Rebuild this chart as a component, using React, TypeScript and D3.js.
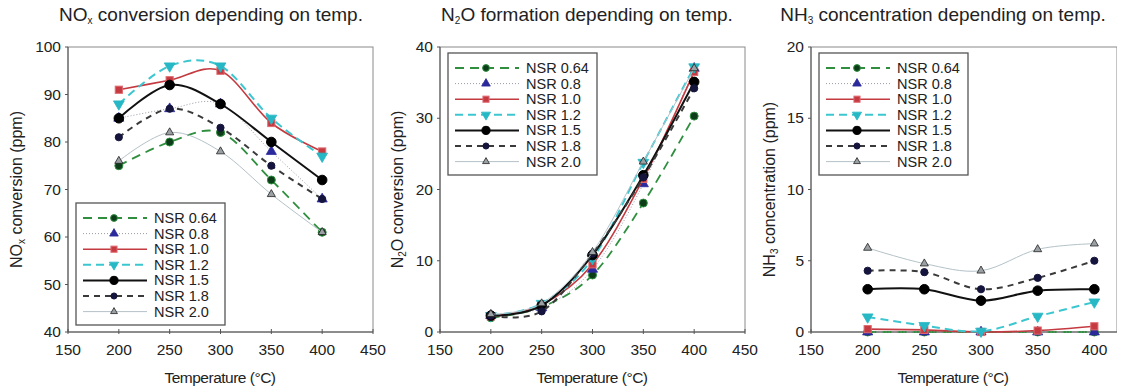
import React, { useEffect, useRef } from 'react';
import * as d3 from 'd3';

// temperatures (°C) shared by all three panels
const temps = [200, 250, 300, 350, 400];
const seriesNames = ['NSR 0.64', 'NSR 0.8', 'NSR 1.0', 'NSR 1.2', 'NSR 1.5', 'NSR 1.8', 'NSR 2.0'];

// NOx conversion (ppm)
const noxValues = [
	[75, 80, 82, 72, 61],
	[85, 87, 88, 78, 68],
	[91, 93, 95, 84, 78],
	[88, 96, 96, 85, 77],
	[85, 92, 88, 80, 72],
	[81, 87, 83, 75, 68],
	[76, 82, 78, 69, 61],
];

// N2O formation (ppm)
const n2oValues = [
	[2.0, 3.5, 8.0, 18.1, 30.3],
	[2.3, 3.4, 8.8, 20.8, 37.0],
	[2.2, 3.8, 9.5, 21.5, 36.5],
	[2.3, 4.0, 10.3, 23.8, 37.2],
	[2.3, 3.7, 10.8, 22.0, 35.1],
	[2.3, 2.9, 11.0, 21.7, 34.2],
	[2.5, 4.0, 11.2, 23.9, 37.0],
];

// NH3 concentration (ppm)
const nh3Values = [
	[0, 0, 0, 0, 0],
	[0, 0, 0, 0, 0],
	[0.2, 0.15, 0, 0.1, 0.4],
	[1.05, 0.45, 0.05, 1.1, 2.1],
	[3.0, 3.0, 2.2, 2.9, 3.0],
	[4.3, 4.2, 3.0, 3.8, 5.0],
	[5.9, 4.8, 4.3, 5.8, 6.2],
];

const noxTicks = [40, 50, 60, 70, 80, 90, 100];
const n2oTicks = [0, 10, 20, 30, 40];
const nh3Ticks = [0, 5, 10, 15, 20];
const xTicksFull = [150, 200, 250, 300, 350, 400, 450];
const xTicksShort = [150, 200, 250, 300, 350, 400];

// look of each series (Excel-like)
const looks = [
	{ stroke: '#2f8f3f', width: 1.8, dash: '9,6', symbol: 'circle', size: 4, fill: '#0c3d18', mstroke: '#2f8f3f' },
	{ stroke: '#9a9aa8', width: 1, dash: '1,2', symbol: 'triangle', size: 4.5, fill: '#2a2a9c', mstroke: '#2a2a9c' },
	{ stroke: '#c43a40', width: 1.6, dash: null, symbol: 'square', size: 3.6, fill: '#c43a40', mstroke: '#e06a70' },
	{ stroke: '#3cc6cf', width: 2, dash: '8,5', symbol: 'down', size: 4.8, fill: '#26b8c4', mstroke: '#26b8c4' },
	{ stroke: '#111111', width: 2, dash: null, symbol: 'circle', size: 4.8, fill: '#000000', mstroke: '#000000' },
	{ stroke: '#3a3a3a', width: 2, dash: '6,5', symbol: 'circle', size: 3.6, fill: '#14143c', mstroke: '#14143c' },
	{ stroke: '#b4c2c8', width: 1, dash: null, symbol: 'triangle', size: 3.6, fill: '#9aa0a4', mstroke: '#222' },
];

const panels = [
	{
		values: noxValues, yDomain: [40, 100], yTicks: noxTicks, xDomain: [150, 450], xTicks: xTicksFull,
		left: 68, right: 373, title: ['NO', 'x', ' conversion depending on temp.'], titleX: 211,
		ylab: ['NO', 'x', ' conversion (ppm)'], ylabX: 22, xlabX: 220, legendBottom: true,
	},
	{
		values: n2oValues, yDomain: [0, 40], yTicks: n2oTicks, xDomain: [150, 450], xTicks: xTicksFull,
		left: 440, right: 745, title: ['N', '2', 'O formation depending on temp.'], titleX: 587,
		ylab: ['N', '2', 'O conversion (ppm)'], ylabX: 403, xlabX: 592, legendBottom: false,
	},
	{
		values: nh3Values, yDomain: [0, 20], yTicks: nh3Ticks, xDomain: [150, 420], xTicks: xTicksShort,
		left: 811, right: 1117, title: ['NH', '3', ' concentration depending on temp.'], titleX: 943,
		ylab: ['NH', '3', ' concentration (ppm)'], ylabX: 775, xlabX: 953, legendBottom: false,
	},
];

const W = 1125;
const H = 392;
const TOP = 47;
const BOTTOM = 332;
const FONT = '"Liberation Sans", Arial, Helvetica, sans-serif';

function drawSymbol(g, kind, x, y, r, fill, stroke) {
	if (kind === 'circle') {
		g.append('circle').attr('cx', x).attr('cy', y).attr('r', r).attr('fill', fill).attr('stroke', stroke).attr('stroke-width', 1);
	} else if (kind === 'square') {
		g.append('rect').attr('x', x - r).attr('y', y - r).attr('width', 2 * r).attr('height', 2 * r)
			.attr('fill', fill).attr('stroke', stroke).attr('stroke-width', 1);
	} else {
		const sym = d3.symbol().type(d3.symbolTriangle).size(r * r * 2.2);
		g.append('path').attr('d', sym())
			.attr('transform', `translate(${x},${y})${kind === 'down' ? ' rotate(180)' : ''}`)
			.attr('fill', fill).attr('stroke', stroke).attr('stroke-width', 0.8);
	}
}

function addSubText(sel, parts, subSize) {
	sel.append('tspan').text(parts[0]);
	sel.append('tspan').attr('font-size', subSize).attr('dy', 3).text(parts[1]);
	sel.append('tspan').attr('dy', -3).text(parts[2]);
}

export default function App() {
	const ref = useRef(null);

	useEffect(() => {
		const svg = d3.select(ref.current);
		svg.selectAll('*').remove();
		svg.append('rect').attr('width', W).attr('height', H).attr('fill', '#fff');

		panels.forEach(p => {
			const x = d3.scaleLinear().domain(p.xDomain).range([p.left, p.right]);
			const y = d3.scaleLinear().domain(p.yDomain).range([BOTTOM, TOP]);
			const g = svg.append('g').attr('font-family', FONT);

			// title
			const t = g.append('text').attr('x', p.titleX).attr('y', 21).attr('text-anchor', 'middle')
				.attr('font-size', 19).attr('fill', '#222');
			addSubText(t, p.title, 10);

			// frame
			g.append('rect').attr('x', p.left).attr('y', TOP).attr('width', p.right - p.left).attr('height', BOTTOM - TOP)
				.attr('fill', 'none').attr('stroke', '#8a8a8a').attr('stroke-width', 1);

			// axes lines
			g.append('line').attr('x1', p.left).attr('x2', p.left).attr('y1', TOP).attr('y2', BOTTOM).attr('stroke', '#555');
			g.append('line').attr('x1', p.left).attr('x2', p.right).attr('y1', BOTTOM).attr('y2', BOTTOM).attr('stroke', '#555');

			// y ticks
			p.yTicks.forEach(v => {
				g.append('line').attr('x1', p.left - 3).attr('x2', p.left).attr('y1', y(v)).attr('y2', y(v)).attr('stroke', '#555');
				g.append('text').attr('x', p.left - 7).attr('y', y(v) + 5).attr('text-anchor', 'end')
					.attr('font-size', 15.5).attr('fill', '#222').text(v);
			});
			// x ticks
			p.xTicks.forEach(v => {
				g.append('line').attr('x1', x(v)).attr('x2', x(v)).attr('y1', BOTTOM - 3).attr('y2', BOTTOM + 2).attr('stroke', '#555');
				g.append('text').attr('x', x(v)).attr('y', 355).attr('text-anchor', 'middle')
					.attr('font-size', 15.5).attr('fill', '#222').text(v);
			});

			// axis labels
			g.append('text').attr('x', p.xlabX).attr('y', 383).attr('text-anchor', 'middle')
				.attr('font-size', 15.5).attr('letter-spacing', -0.5).attr('fill', '#222').text('Temperature (°C)');
			const yl = g.append('text').attr('transform', `translate(${p.ylabX},${(TOP + BOTTOM) / 2}) rotate(-90)`)
				.attr('text-anchor', 'middle').attr('font-size', 16).attr('fill', '#222');
			addSubText(yl, p.ylab, 10);

			// series
			const line = d3.line().x((d, i) => x(temps[i])).y(d => y(d)).curve(d3.curveCardinal.tension(0));
			p.values.forEach((vals, si) => {
				const lk = looks[si];
				g.append('path').attr('d', line(vals)).attr('fill', 'none').attr('stroke', lk.stroke)
					.attr('stroke-width', lk.width).attr('stroke-dasharray', lk.dash);
				vals.forEach((v, i) => drawSymbol(g, lk.symbol, x(temps[i]), y(v), lk.size, lk.fill, lk.mstroke));
			});

			// legend
			const bx = p.left + 8;
			const bw = 149;
			const bh = 122;
			const by = p.legendBottom ? BOTTOM - 7 - bh : TOP + 6;
			const lg = g.append('g');
			lg.append('rect').attr('x', bx).attr('y', by).attr('width', bw).attr('height', bh)
				.attr('fill', '#fff').attr('stroke', '#555').attr('stroke-width', 1.3);
			seriesNames.forEach((name, si) => {
				const lk = looks[si];
				const cy = by + 15 + si * 15.6;
				lg.append('line').attr('x1', bx + 7).attr('x2', bx + 71).attr('y1', cy).attr('y2', cy)
					.attr('stroke', lk.stroke).attr('stroke-width', lk.width).attr('stroke-dasharray', lk.dash);
				drawSymbol(lg, lk.symbol, bx + 38, cy, lk.size * 0.85, lk.fill, lk.mstroke);
				lg.append('text').attr('x', bx + 78).attr('y', cy + 5).attr('font-size', 14.5).attr('fill', '#222').text(name);
			});
		});
	}, []);

	return (
		<div>
			<svg ref={ref} width={W} height={H} style={{ display: 'block', marginTop: -8, marginLeft: -8 }} />
		</div>
	);
}
